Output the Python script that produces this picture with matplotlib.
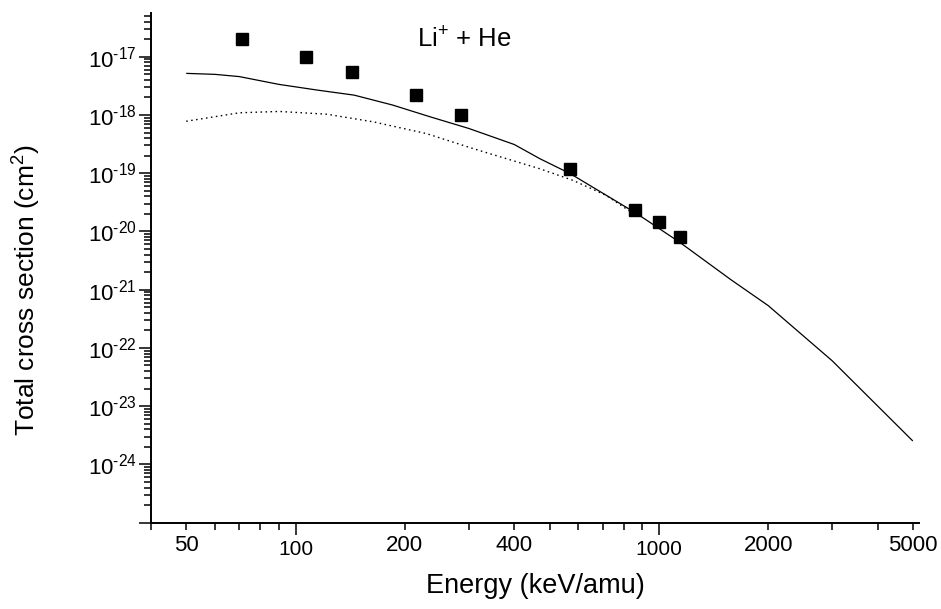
import numpy as np
import matplotlib
matplotlib.use("Agg")
import matplotlib.pyplot as plt
from matplotlib.ticker import FixedLocator, FixedFormatter, LogLocator, NullFormatter

plt.rcParams['font.family'] = ['Liberation Sans', 'DejaVu Sans']
plt.rcParams['mathtext.fontset'] = 'custom'
plt.rcParams['mathtext.rm'] = 'Liberation Sans'
plt.rcParams['mathtext.it'] = 'Liberation Sans:italic'
plt.rcParams['mathtext.bf'] = 'Liberation Sans:bold'
plt.rcParams['axes.unicode_minus'] = False

# Experimental points (keV/amu, cm^2)
exp_energy = [71.4, 107, 143, 214, 286, 571, 857, 1000, 1143]
exp_sigma = [2.0e-17, 1.0e-17, 5.5e-18, 2.17e-18, 9.8e-19, 1.18e-19, 2.33e-20, 1.47e-20, 7.9e-21]

# Solid theory curve
solid_energy = [50, 60, 70, 90, 115, 145, 185, 235, 300, 400, 470, 570, 870, 1140, 1580, 2000, 3000, 5000]
solid_sigma = [5.18e-18, 4.98e-18, 4.56e-18, 3.35e-18, 2.67e-18, 2.19e-18, 1.48e-18, 9.27e-19,
               5.86e-19, 3.11e-19, 1.78e-19, 9.84e-20, 2.02e-20, 6.55e-21, 1.48e-21, 5.33e-22,
               6.02e-23, 2.53e-24]

# Dotted theory curve
dot_energy = [50, 70, 90, 122, 164, 229, 308, 380, 469, 580, 716, 830]
dot_sigma = [7.8e-19, 1.09e-18, 1.15e-18, 1.03e-18, 7.6e-19, 4.8e-19, 2.65e-19, 1.78e-19,
             1.2e-19, 7.55e-20, 4.17e-20, 2.25e-20]

x_label_major = [100, 1000]
x_label_minor = [50, 200, 400, 2000, 5000]
y_label_exps = [-25, -24, -23, -22, -21, -20, -19, -18, -17]

fig = plt.figure(figsize=(9.41, 6.09), dpi=100)
ax = fig.add_axes([151/941, 1-522.7/609, (919-151)/941, (522.7-12.7)/609])

ax.plot(solid_energy, solid_sigma, color='black', lw=0.9, solid_capstyle='butt')
ax.plot(dot_energy, dot_sigma, color='black', lw=1.0, linestyle=(0, (1.1, 2.5)))
ax.plot(exp_energy, exp_sigma, linestyle='none', marker='s', markersize=8.6, color='black')

ax.set_xscale('log')
ax.set_yscale('log')
ax.set_xlim(40, 5200)
ax.set_ylim(1e-25, 5.7e-17)

for s in ['top', 'right']:
    ax.spines[s].set_visible(False)
for s in ['left', 'bottom']:
    ax.spines[s].set_linewidth(1.4)

# x ticks
ax.xaxis.set_major_locator(FixedLocator(x_label_major))
ax.xaxis.set_major_formatter(FixedFormatter([str(v) for v in x_label_major]))
xminor = list(range(40, 100, 10)) + list(range(200, 1000, 100)) + list(range(2000, 6000, 1000))
ax.xaxis.set_minor_locator(FixedLocator(xminor))
ax.xaxis.set_minor_formatter(FixedFormatter([str(v) if v in x_label_minor else '' for v in xminor]))

# y ticks
yt = [10.0**e for e in y_label_exps]
ax.yaxis.set_major_locator(FixedLocator(yt))
ax.yaxis.set_major_formatter(FixedFormatter(['' if e == -25 else r'$10^{\text{%d}}$' % e for e in y_label_exps]))
ax.yaxis.set_minor_locator(LogLocator(base=10, subs=np.arange(2, 10), numticks=50))
ax.yaxis.set_minor_formatter(NullFormatter())

ax.tick_params(which='major', direction='out', length=8.4, width=1.1, pad=2)
ax.tick_params(which='minor', direction='out', length=4.8, width=1.1, pad=2)
ax.tick_params(axis='x', which='major', labelsize=15, pad=4)
ax.tick_params(axis='x', which='minor', labelsize=16, pad=4)
ax.tick_params(axis='y', which='major', labelsize=16, pad=2)

ax.set_xlabel('Energy (keV/amu)', fontsize=19.5, labelpad=10)
ax.set_ylabel(r'Total cross section (cm$^2$)', fontsize=19)
ax.yaxis.set_label_coords(-0.1406, 0.456)

ax.text(0.347, 0.9465, r'Li$^{+}$ + He', transform=ax.transAxes, fontsize=18.5,
        ha='left', va='center')

fig.savefig('out.png', dpi=100)
